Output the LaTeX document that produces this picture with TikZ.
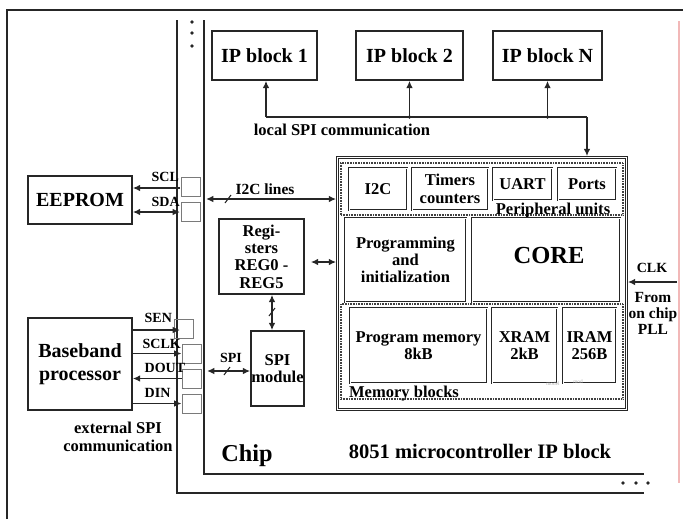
\documentclass[tikz,border=0pt]{standalone}
\usepackage{fontspec}
\setmainfont{Liberation Serif}
\usetikzlibrary{arrows.meta,calc}
\definecolor{ink}{HTML}{262626}
\definecolor{padgray}{HTML}{7A7A7A}
\definecolor{dotgray}{HTML}{404040}
\definecolor{framered}{HTML}{F2B8B8}

\begin{document}
\begin{tikzpicture}[x=0.75pt,y=-0.75pt,
  sz/.style 2 args={minimum width=#1*0.75pt, minimum height=#2*0.75pt},
  fL/.style={font=\fontsize{15}{17.5}\selectfont\bfseries},
  fM/.style={font=\fontsize{12.4}{13}\selectfont\bfseries},
  fS/.style={font=\fontsize{10.5}{12}\selectfont\bfseries},
  blk/.style={draw=ink, line width=1.2pt, inner sep=0pt, align=center},
  dblk/.style={draw=ink, line width=2pt, inner sep=0pt, align=center,
    postaction={draw=white, line width=0.6pt}},
  dotbox/.style={draw=dotgray, line width=1pt, dash pattern=on 0.6pt off 0.6pt, inner sep=0pt},
  pad/.style={draw=padgray, line width=0.7pt, inner sep=0pt, sz={19}{19}},
  arr/.style={draw=ink, line width=1.2pt, -{Latex[length=5.5pt,width=5pt]}},
  darr/.style={draw=ink, line width=1.2pt, {Latex[length=5.5pt,width=5pt]}-{Latex[length=5.5pt,width=5pt]}},
  tick/.style={draw=ink, line width=0.8pt},
  bus/.style={draw=ink, line width=1.2pt},
  chipline/.style={draw=ink, line width=1.4pt}
]
\useasboundingbox (0,0) rectangle (683,519);

% outer frame
\draw[ink, line width=1.3pt] (7,519) -- (7,10) -- (683,10);
\draw[framered, line width=0.8pt] (679,21) -- (679,483);

% chip package and die outlines
\draw[chipline] (177,20) -- (177,493) -- (644,493);
\draw[chipline] (204,20) -- (204,474) -- (644,474);
\foreach \yy in {22,33,46} \fill[ink] (192,\yy) circle[radius=1.8];
\foreach \xx in {623,636,648} \fill[ink] (\xx,483) circle[radius=1.8];

% IP blocks
\node[blk, sz={105}{49}, fL] (ip1) at (264.5,55.5) {IP block 1};
\node[blk, sz={107}{49}, fL] (ip2) at (409.5,55.5) {IP block 2};
\node[blk, sz={109}{49}, fL] (ipN) at (547.5,55.5) {IP block N};

% external devices
\node[blk, sz={104}{48}, fL] (eeprom) at (80,200) {EEPROM};
\node[blk, sz={104}{92}, fL] (base) at (80,364) {Baseband\\processor};

% registers and SPI module
\node[blk, sz={85}{75}, fM] (regs) at (261.5,256.5) {Regi-\\sters\\REG0 -\\REG5};
\node[blk, sz={53}{75}, fM] (spim) at (277.5,368.5) {SPI\\module};

% 8051 microcontroller
\node[dblk, sz={289}{252}] (mcu) at (482,283.5) {};
\node[dotbox, sz={282}{52}] (periph) at (482,189) {};
\node[dblk, sz={58}{42}, fM] (i2c) at (378,189) {I2C};
\node[dblk, sz={76}{42}, fM] (timers) at (450,189) {Timers\\counters};
\node[dblk, sz={59}{32}, fM] (uart) at (522.5,184) {UART};
\node[dblk, sz={58}{32}, fM] (ports) at (587,184) {Ports};
\node[fM, anchor=base, inner sep=0pt] (perlbl) at (553,214) {Peripheral units};

\node[dblk, sz={121}{84}, fM] (prog) at (405.5,260) {Programming\\and\\initialization};
\node[dblk, sz={148}{84}] (core) at (546,260) {};
\node[font=\fontsize{18.4}{20}\selectfont\bfseries] (corelbl) at (549,255) {CORE};

\node[dotbox, sz={282}{95}] (mem) at (482,351.5) {};
\node[dblk, sz={137}{75}, fM] (pmem) at (418.5,345.5) {Program memory\\8kB};
\node[dblk, sz={65}{75}, fM] (xram) at (524.5,345.5) {XRAM\\2kB};
\node[dblk, sz={53}{75}, fM] (iram) at (589.5,345.5) {IRAM\\256B};
\node[fM, anchor=base, inner sep=0pt] (memlbl) at (404,397) {Memory blocks};
\node[font=\fontsize{4}{4}\selectfont, text=gray!60] (m1) at (553,384) {model};
\node[font=\fontsize{4}{4}\selectfont, text=gray!60] (m2) at (578,382) {mod};

% local SPI bus to the IP blocks
\coordinate (b1) at (266,117);
\coordinate (b4) at (587,117);
\draw[bus] (b1) -- (b4);
\draw[arr] (b1) -- (b1 |- ip1.south);
\draw[arr] (ip2.south |- b1) -- (ip2.south);
\draw[arr] (ipN.south |- b1) -- (ipN.south);
\fill[ink] (ip2.south |- b1) circle[radius=1.8];
\fill[ink] (ipN.south |- b1) circle[radius=1.8];
\draw[arr] (b4) -- (b4 |- mcu.north);
\node[fM] (lspi) at (342,130) {local SPI communication};

% pads
\node[pad] (pscl) at (191,187) {};
\node[pad] (psda) at (191,212) {};
\node[pad] (psen) at (184,329) {};
\node[pad] (psclk) at (191.5,353.5) {};
\node[pad] (pdout) at (191.5,378.5) {};
\node[pad] (pdin) at (191.5,403.5) {};

% I2C to EEPROM
\draw[arr] ($(pscl.west)+(-1,1)$) -- ($(pscl.west -| eeprom.east)+(0,1)$);
\draw[darr] (psda.west -| eeprom.east) -- ($(psda.west)+(-1,0)$);
\node[fS, anchor=west] (lscl) at (147,177) {SCL};
\node[fS, anchor=west] (lsda) at (147,202) {SDA};

% external SPI to baseband processor
\draw[arr] ($(psen.center -| base.east)+(0,1)$) -- ($(psen.west)+(6,1)$);
\draw[arr] (psclk.west -| base.east) -- (psclk.west);
\draw[arr] (pdout.west) -- (pdout.west -| base.east);
\draw[arr] (pdin.west -| base.east) -- (pdin.west);
\node[fS, anchor=west] (lsen) at (140,318) {SEN};
\node[fS, anchor=west] (lsclk) at (138,344) {SCLK};
\node[fS, anchor=west] (ldout) at (140,368) {DOUT};
\node[fS, anchor=west] (ldin) at (140,393) {DIN};
\node[font=\fontsize{12.4}{14}\selectfont\bfseries, align=center] (lext) at (118,437) {external SPI\\communication};

% internal connections
\coordinate (i2cL) at (206,199);
\draw[darr] (i2cL) -- (i2cL -| mcu.west);
\draw[tick] (225,203) -- (231,195);
\node[font=\fontsize{11.6}{13}\selectfont\bfseries] (li2c) at (265,189) {I2C lines};

\draw[darr] ($(regs.east)+(6,5.5)$) -- ($(regs.east -| mcu.west)+(0,5.5)$);

\coordinate (rs) at (272,0);
\draw[darr] (rs |- regs.south) -- (rs |- spim.north);
\draw[tick] (269,316) -- (275,308);

\coordinate (spiL) at (207,371);
\draw[darr] (spiL) -- (spiL -| spim.west);
\draw[tick] (224,375) -- (230,367);
\node[fS] (lspim) at (231,358) {SPI};

% clock input
\coordinate (clkR) at (677,282);
\draw[arr] (clkR) -- (clkR -| mcu.east);
\node[fS] (lclk) at (652,268) {CLK};
\node[font=\fontsize{11.6}{12}\selectfont\bfseries, align=center] (lpll) at (653,313) {From\\on chip\\PLL};

% captions
\node[font=\fontsize{18.2}{20}\selectfont\bfseries, anchor=base] (lchip) at (247,461) {Chip};
\node[font=\fontsize{15.4}{17}\selectfont\bfseries, anchor=base] (lmcu) at (480,458) {8051 microcontroller IP block};
\end{tikzpicture}
\end{document}
